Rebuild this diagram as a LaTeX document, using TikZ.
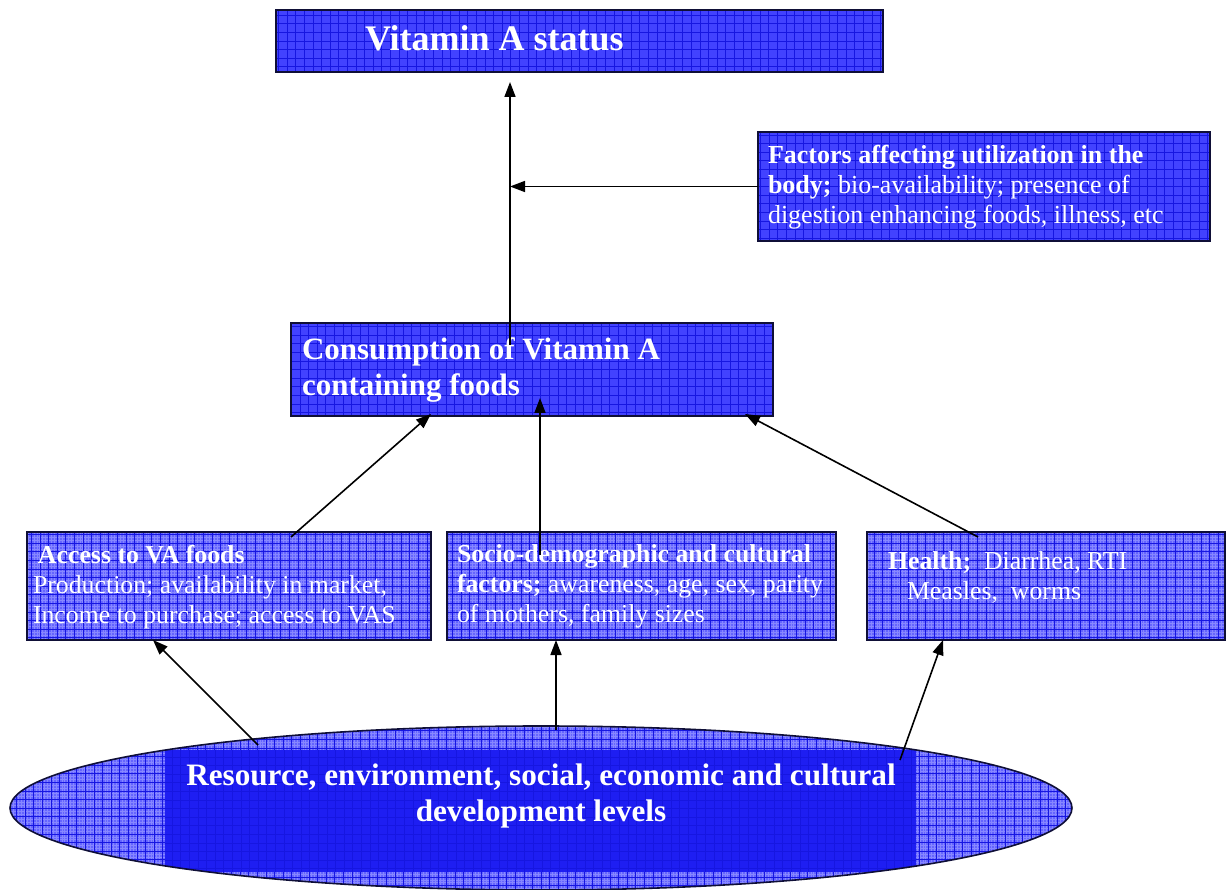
\documentclass[tikz,border=0pt]{standalone}
\usepackage{fontspec}
\setmainfont{Liberation Serif}
\usetikzlibrary{shapes.geometric,arrows.meta,calc}
\definecolor{boxblue}{RGB}{66,66,255}
\definecolor{gridblue}{RGB}{22,22,225}
\definecolor{lightblue}{RGB}{100,100,255}
\definecolor{finegrid}{RGB}{135,135,255}
\definecolor{darkfill}{RGB}{30,30,242}
\definecolor{edge}{RGB}{15,15,55}
\begin{document}
\begin{tikzpicture}[x=1pt,y=-1pt,
  gridpic/.style={path picture={\draw[gridblue,line width=0.6pt] (path picture bounding box.south west) grid[step=8.6pt] (path picture bounding box.north east);}},
  finepic/.style={path picture={
      \draw[finegrid,line width=0.35pt] (path picture bounding box.south west) grid[step=2.87pt] (path picture bounding box.north east);
      \draw[gridblue,line width=0.6pt] (path picture bounding box.south west) grid[step=8.6pt] (path picture bounding box.north east);}},
  darkbox/.style={draw=edge,line width=1.6pt,fill=boxblue,inner sep=0pt,outer sep=0pt,gridpic},
  lightbox/.style={draw=edge,line width=1.6pt,fill=lightblue,inner sep=0pt,outer sep=0pt,finepic},
  txt/.style={text=white,inner sep=0pt,outer sep=0pt,align=left},
  arr/.style={line width=1.6pt,-{Triangle[length=15pt,width=11pt]}}]
\useasboundingbox (0,0) rectangle (1232,890);

% boxes
\node[darkbox,minimum width=607pt,minimum height=62pt] (status) at (579.5,41) {};
\node[darkbox,minimum width=452pt,minimum height=109pt] (factors) at (984,186.5) {};
\node[darkbox,minimum width=482pt,minimum height=93pt] (cons) at (532,369.5) {};
\node[lightbox,minimum width=404pt,minimum height=108pt] (access) at (229,586) {};
\node[lightbox,minimum width=389pt,minimum height=108pt] (socio) at (641.5,586) {};
\node[lightbox,minimum width=358pt,minimum height=108pt] (health) at (1046,586) {};

% ellipse
\node[ellipse,minimum width=1062pt,minimum height=164pt,inner sep=0pt,outer sep=0pt,fill=lightblue,finepic] (env) at (541,808) {};
\begin{scope}
  \clip (env.center) ellipse [x radius=531,y radius=82];
  \fill[darkfill] (165,750) rectangle (916,872);
  \draw[gridblue,line width=0.5pt] (165,750) grid[step=8.6pt] (916,872);
\end{scope}
\draw[edge,line width=1.6pt] (env.center) ellipse [x radius=531,y radius=82];

% texts
\node[txt,anchor=north west,font=\bfseries\fontsize{36}{40}\selectfont] (statust) at (365,26) {Vitamin A status};
\node[txt,anchor=north west,font=\fontsize{26}{30}\selectfont] (factorst) at (768,145)
  {\textbf{Factors affecting utilization in the}\\\textbf{body;} bio-availability; presence of\\digestion enhancing foods, illness, etc};
\node[txt,anchor=north west,font=\bfseries\fontsize{31}{36}\selectfont] (const) at (302,338)
  {Consumption of Vitamin A\\containing foods};
\node[txt,anchor=north west,font=\fontsize{25.8}{30}\selectfont] (accesst) at (33,545)
  {\hspace*{5pt}\textbf{Access to VA foods}\\Production; availability in market,\\Income to purchase; access to VAS};
\node[txt,anchor=north west,font=\fontsize{25.8}{30}\selectfont] (sociot) at (457,545)
  {\textbf{Socio-demographic and cultural}\\\textbf{factors;} awareness, age, sex, parity\\of mothers, family sizes};
\node[txt,anchor=north west,font=\fontsize{25.8}{30}\selectfont] (healtht) at (888,552)
  {\textbf{Health;}\ \ Diarrhea, RTI\\\hspace*{19pt}Measles,\ \ worms};
\node[txt,anchor=north,align=center,font=\bfseries\fontsize{31.2}{36}\selectfont] (envt) at (541,764)
  {Resource, environment, social, economic and cultural\\development levels};

% connectors
\coordinate (trunk) at ($(cons.north west)+(219,22)$);
\draw[arr] (trunk) -- ($(status.south west)+(234,10)$);
\draw[arr] (factors.west) -- (factors.west -| trunk);
\draw[arr] ($(access.north west)+(264,5)$) -- ($(cons.south west)+(140,-2)$);
\draw[arr] ($(socio.north west)+(93,23)$) -- ($(cons.south west)+(249,-18)$);
\draw[arr] ($(health.north west)+(111,5)$) -- ($(cons.south east)+(-28,-2)$);
\draw[arr] ($(env.center)+(-283,-63)$) -- ($(access.south west)+(126,0)$);
\draw[arr] ($(env.center)+(15,-78)$) -- ($(socio.south west)+(109,0)$);
\draw[arr] ($(env.center)+(359,-48)$) -- ($(health.south west)+(76,0)$);
\end{tikzpicture}
\end{document}
